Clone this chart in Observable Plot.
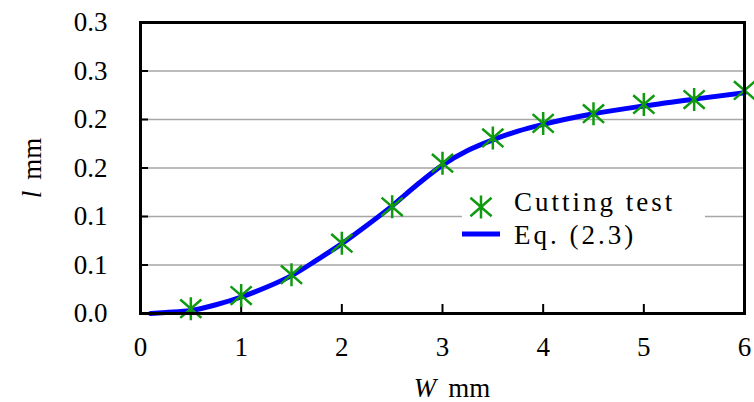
<!DOCTYPE html>
<html><head><meta charset="utf-8">
<script src="https://cdn.jsdelivr.net/npm/d3@7"></script>
<script src="https://cdn.jsdelivr.net/npm/@observablehq/plot@0.6"></script>
<style>
html,body{margin:0;padding:0;background:#fff;}
#wrap{position:relative;width:754px;height:402px;font-family:'Liberation Serif','Times New Roman',serif;}
#wrap svg{display:block;}
#wrap svg, #wrap svg text{font-family:'Liberation Serif','Times New Roman',serif !important;}
</style></head><body><div id="wrap"></div>
<script>
// ---- data ----
const testW = [0.5, 1, 1.5, 2, 2.5, 3, 3.5, 4, 4.5, 5, 5.5, 6];
const testL = [0.005, 0.0185, 0.040, 0.0725, 0.110, 0.155, 0.181, 0.196, 0.206, 0.2155, 0.2205, 0.230];
const eqW = [0.1, 0.25, 0.5, 0.75, 1, 1.25, 1.5, 1.75, 2, 2.25, 2.5, 2.75, 3, 3.25, 3.5, 3.75, 4, 4.5, 5, 5.5, 6];
const eqL = [0.0, 0.001, 0.003, 0.009, 0.017, 0.027, 0.039, 0.055, 0.072, 0.091, 0.111, 0.133, 0.153, 0.168, 0.179, 0.188, 0.195, 0.206, 0.214, 0.221, 0.2275];
const xTicks = [0, 1, 2, 3, 4, 5, 6];
const yTicks = [0, 0.05, 0.1, 0.15, 0.2, 0.25, 0.3];
const yTickLabels = ["0.0", "0.1", "0.1", "0.2", "0.2", "0.3", "0.3"];
const seriesNames = ["Cutting test", "Eq. (2.3)"];
const xLabel = ["W", "mm"];
const yLabel = ["l", "mm"];

const testData = testW.map((w, i) => ({w, l: testL[i]}));
const eqData = eqW.map((w, i) => ({w, l: eqL[i]}));

const GREEN = "#0f9a0f";
const BLUE = "#0000ff";
const FONT = "Liberation Serif";

const asterisk = {
  draw(ctx, size) {
    const r = Math.sqrt(size / Math.PI);
    ctx.moveTo(0, -r); ctx.lineTo(0, r);
    ctx.moveTo(-0.92 * r, -0.8 * r); ctx.lineTo(0.92 * r, 0.8 * r);
    ctx.moveTo(-0.92 * r, 0.8 * r); ctx.lineTo(0.92 * r, -0.8 * r);
  }
};

const chart = Plot.plot({
  width: 754,
  height: 402,
  marginLeft: 140,
  marginRight: 10,
  marginTop: 22,
  marginBottom: 89,
  style: {fontFamily: FONT, fontSize: "27px", color: "black", background: "white"},
  x: {domain: [0, 6]},
  y: {domain: [0, 0.3]},
  marks: [
    Plot.gridY(yTicks, {stroke: "#a6a6a6", strokeOpacity: 1, strokeWidth: 1.5}),
    Plot.axisX(xTicks, {tickSize: -9, tickPadding: 32, strokeWidth: 2, tickFormat: d => String(d), label: null, fill: "black"}),
    Plot.axisY(yTicks, {tickSize: -8, tickPadding: 41, strokeWidth: 2, tickFormat: (d, i) => yTickLabels[i], label: null, fill: "black"}),
    Plot.line(eqData, {x: "w", y: "l", stroke: BLUE, strokeWidth: 5, curve: "monotone-x"}),
    Plot.dot(testData, {x: "w", y: "l", symbol: asterisk, r: 11.5, stroke: GREEN, strokeWidth: 2.5, fill: "none"}),
    Plot.frame({stroke: "black", strokeWidth: 3})
  ]
});

document.getElementById("wrap").appendChild(chart);

const svg = d3.select(chart);
// axis titles with italic variable
const xt = svg.append("text")
  .attr("x", 452).attr("y", 397)
  .attr("text-anchor", "middle")
  .style("font-size", "27px").attr("fill", "black");
xt.append("tspan").style("font-style", "italic").text(xLabel[0]);
xt.append("tspan").attr("dx", 12).text(xLabel[1]);

const yt = svg.append("text")
  .attr("transform", "translate(41,168) rotate(-90)")
  .attr("text-anchor", "middle")
  .style("font-size", "27px").attr("fill", "black");
yt.append("tspan").style("font-style", "italic").text(yLabel[0]);
yt.append("tspan").attr("dx", 11).text(yLabel[1]);

// legend overlay
const LT = 180;
const leg = d3.select("#wrap").append("svg")
  .attr("width", 243).attr("height", 72)
  .style("position", "absolute").style("left", "462px").style("top", LT + "px");
leg.append("rect").attr("width", 243).attr("height", 72).attr("fill", "white");
const g1 = leg.append("g").attr("transform", `translate(19,${207 - LT})`);
g1.append("path")
  .attr("d", () => { const p = d3.path(); asterisk.draw(p, Math.PI * 11.5 * 11.5); return p.toString(); })
  .attr("stroke", GREEN).attr("stroke-width", 2.5).attr("fill", "none");
leg.append("text").attr("x", 52).attr("y", 211 - LT)
  .style("font-size", "27px").style("letter-spacing", "3px").attr("fill", "black")
  .text(seriesNames[0]);
leg.append("line").attr("x1", 0).attr("x2", 38).attr("y1", 234 - LT).attr("y2", 234 - LT)
  .attr("stroke", BLUE).attr("stroke-width", 5);
leg.append("text").attr("x", 52).attr("y", 244 - LT)
  .style("font-size", "27px").style("letter-spacing", "3px").attr("fill", "black")
  .text(seriesNames[1]);
</script>
</body></html>
